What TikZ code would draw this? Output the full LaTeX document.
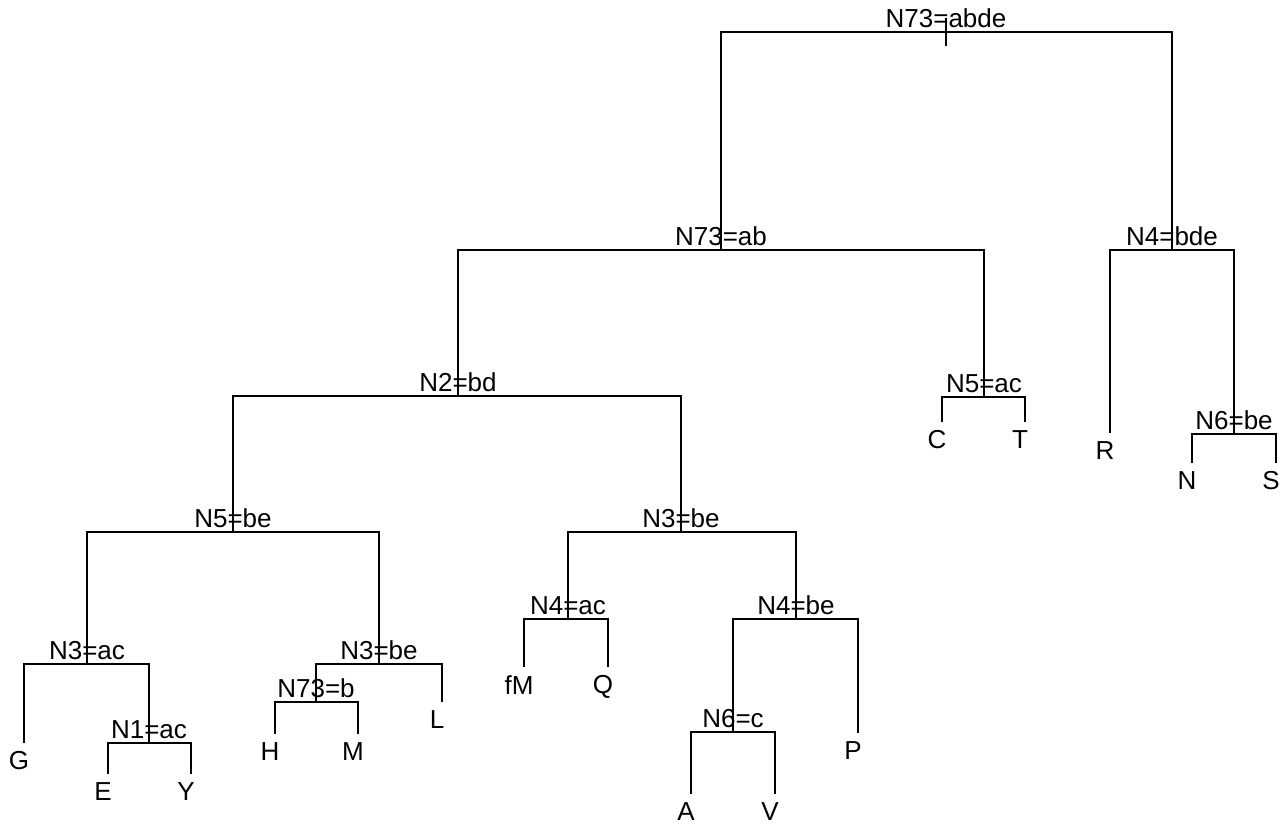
\documentclass[tikz,border=0pt]{standalone}
\usepackage{fontspec}
\setmainfont{Liberation Sans}
\usepackage{tikz}
\usetikzlibrary{positioning}
\tikzset{
  split/.style={inner sep=0pt, font=\fontsize{13}{15}\selectfont},
  leaf/.style={inner sep=0pt, xshift=-2.5pt, font=\fontsize{13}{15}\selectfont},
  branch/.style={draw=black, line width=0.6pt},
}
\begin{document}
\begin{tikzpicture}[x=0.5pt,y=-0.5pt]
\useasboundingbox (0,0) rectangle (1280,827);
% split points (bar centres)
\coordinate (root)  at (946,32);
\coordinate (n73ab) at (721,250);
\coordinate (n4bde) at (1172,250);
\coordinate (n2bd)  at (458,396);
\coordinate (n5ac)  at (984,397);
\coordinate (n6be)  at (1234,434);
\coordinate (n5be)  at (233,532);
\coordinate (n3beR) at (681,532);
\coordinate (n3ac)  at (87,664);
\coordinate (n1ac)  at (149,743);
\coordinate (n3beL) at (379,664);
\coordinate (n73b)  at (316,702);
\coordinate (n4ac)  at (568,619);
\coordinate (n4be)  at (796,619);
\coordinate (n6c)   at (733,732);
% leaf ends
\coordinate (eC)  at (942,422);
\coordinate (eT)  at (1025,422);
\coordinate (eR)  at (1110,433);
\coordinate (eN)  at (1192,463);
\coordinate (eS)  at (1276,463);
\coordinate (eG)  at (24,743);
\coordinate (eE)  at (108,774);
\coordinate (eY)  at (191,774);
\coordinate (eH)  at (275,734);
\coordinate (eM)  at (358,734);
\coordinate (eL)  at (442,702);
\coordinate (efM) at (524,667);
\coordinate (eQ)  at (608,667);
\coordinate (eP)  at (858,733);
\coordinate (eA)  at (691,794);
\coordinate (eV)  at (775,794);

% branches
\draw[branch] ([yshift=7pt]root) -- ([yshift=-7pt]root);
\draw[branch] (root) -| (n73ab);
\draw[branch] (root) -| (n4bde);
\draw[branch] (n73ab) -| (n2bd);
\draw[branch] (n73ab) -| (n5ac);
\draw[branch] (n4bde) -| (eR);
\draw[branch] (n4bde) -| (n6be);
\draw[branch] (n5ac) -| (eC);
\draw[branch] (n5ac) -| (eT);
\draw[branch] (n6be) -| (eN);
\draw[branch] (n6be) -| (eS);
\draw[branch] (n2bd) -| (n5be);
\draw[branch] (n2bd) -| (n3beR);
\draw[branch] (n5be) -| (n3ac);
\draw[branch] (n5be) -| (n3beL);
\draw[branch] (n3ac) -| (eG);
\draw[branch] (n3ac) -| (n1ac);
\draw[branch] (n1ac) -| (eE);
\draw[branch] (n1ac) -| (eY);
\draw[branch] (n3beL) -| (n73b);
\draw[branch] (n3beL) -| (eL);
\draw[branch] (n73b) -| (eH);
\draw[branch] (n73b) -| (eM);
\draw[branch] (n3beR) -| (n4ac);
\draw[branch] (n3beR) -| (n4be);
\draw[branch] (n4ac) -| (efM);
\draw[branch] (n4ac) -| (eQ);
\draw[branch] (n4be) -| (n6c);
\draw[branch] (n4be) -| (eP);
\draw[branch] (n6c) -| (eA);
\draw[branch] (n6c) -| (eV);

% split labels
\node[split, above=2pt of root]  (lroot)  {N73=abde};
\node[split, above=2pt of n73ab] (ln73ab) {N73=ab};
\node[split, above=2pt of n4bde] (ln4bde) {N4=bde};
\node[split, above=2pt of n2bd]  (ln2bd)  {N2=bd};
\node[split, above=2pt of n5ac]  (ln5ac)  {N5=ac};
\node[split, above=2pt of n6be]  (ln6be)  {N6=be};
\node[split, above=2pt of n5be]  (ln5be)  {N5=be};
\node[split, above=2pt of n3beR] (ln3beR) {N3=be};
\node[split, above=2pt of n3ac]  (ln3ac)  {N3=ac};
\node[split, above=2pt of n1ac]  (ln1ac)  {N1=ac};
\node[split, above=2pt of n3beL] (ln3beL) {N3=be};
\node[split, above=2pt of n73b]  (ln73b)  {N73=b};
\node[split, above=2pt of n4ac]  (ln4ac)  {N4=ac};
\node[split, above=2pt of n4be]  (ln4be)  {N4=be};
\node[split, above=2pt of n6c]   (ln6c)   {N6=c};

% leaf labels
\node[leaf, below=4pt of eC]  (C)  {C};
\node[leaf, below=4pt of eT]  (T)  {T};
\node[leaf, below=4pt of eR]  (R)  {R};
\node[leaf, below=4pt of eN]  (N)  {N};
\node[leaf, below=4pt of eS]  (S)  {S};
\node[leaf, below=4pt of eG]  (G)  {G};
\node[leaf, below=4pt of eE]  (E)  {E};
\node[leaf, below=4pt of eY]  (Y)  {Y};
\node[leaf, below=4pt of eH]  (H)  {H};
\node[leaf, below=4pt of eM]  (M)  {M};
\node[leaf, below=4pt of eL]  (L)  {L};
\node[leaf, below=4pt of efM] (fM) {fM};
\node[leaf, below=4pt of eQ]  (Q)  {Q};
\node[leaf, below=4pt of eP]  (P)  {P};
\node[leaf, below=4pt of eA]  (A)  {A};
\node[leaf, below=4pt of eV]  (V)  {V};
\end{tikzpicture}
\end{document}
